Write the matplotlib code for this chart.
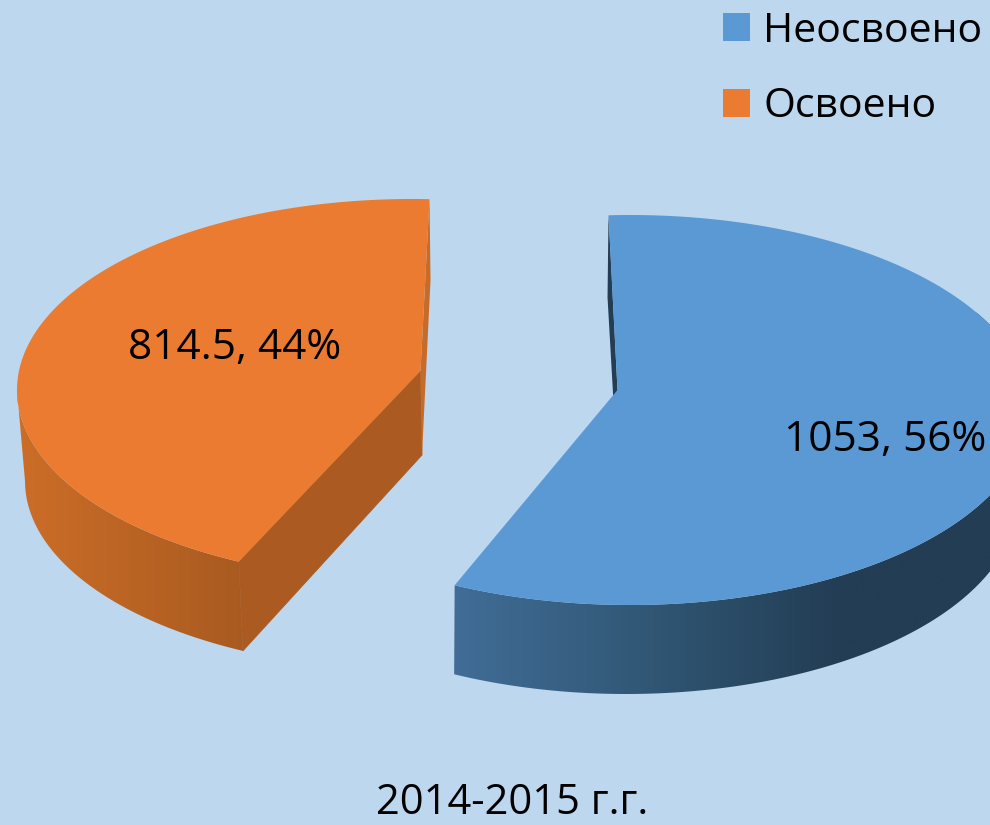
import numpy as np
import matplotlib
matplotlib.use('Agg')
import matplotlib.pyplot as plt
from matplotlib.colors import LinearSegmentedColormap
from matplotlib.patches import Patch, Polygon

# data
categories = ['Неосвоено', 'Освоено']
values = [1053, 814.5]
percent_labels = ['56%', '44%']
value_labels = ['1053', '814.5']
title = '2014-2015 г.г.'

BG = '#bdd7ee'
BLUE = '#5b99d5'
ORANGE = '#ea7b30'

plt.rcParams['font.family'] = ['Open Sans', 'DejaVu Sans']

fig = plt.figure(figsize=(9.9, 8.25), dpi=100, facecolor=BG)
ax = fig.add_axes([0, 0, 1, 1])
ax.set_facecolor(BG)
ax.axis('off')

sweeps = [v / sum(values) * 360 for v in values]

# angles clockwise from the top of the ellipse, slices meet at 206 deg
blue_end = 206
blue_start = blue_end - sweeps[0] * 1.03   # perspective widens the near slice
orange_start = blue_end
orange_end = orange_start + sweeps[1] * 0.997


def rim(phi, cx, cy, rx, ry):
    phi = np.radians(phi)
    return np.column_stack([cx + rx * np.sin(phi), cy - ry * np.cos(phi)])


def grad_fill(pts, colors, x0, x1):
    cmap = LinearSegmentedColormap.from_list('g', colors)
    im = ax.imshow(np.linspace(0, 1, 256).reshape(1, -1), cmap=cmap, aspect='auto',
                   extent=[x0, x1, 825, 0], zorder=2, interpolation='bilinear')
    im.set_clip_path(Polygon(pts, closed=True, transform=ax.transData))


# orange slice
o_top = (412, 390, 395, 191)
o_bot = (413, 481, 388, 189)
o_apex = np.array([420.5, 371])
o_apex_low = o_apex + [1.5, 84]
o_phi = np.linspace(orange_start, orange_end, 200)
o_wall = np.linspace(orange_start, 270, 100)
o_first = rim(orange_start, *o_top)[0]
o_last = rim(orange_end, *o_top)[0]

grad_fill(np.vstack([rim(o_wall, *o_top), rim(o_wall, *o_bot)[::-1]]),
          [(0, '#a85a20'), (1, '#cd6e28')], 250, 10)
ax.add_patch(Polygon([o_first, o_apex, o_apex_low, rim(orange_start, *o_bot)[0]],
                     closed=True, fc='#ab5b22', ec='#ab5b22', lw=0.6, zorder=3))
ax.add_patch(Polygon([o_last, o_last + [1, 81], o_apex_low, o_apex],
                     closed=True, fc='#c66b28', ec='none', zorder=3))
ax.add_patch(Polygon(np.vstack([rim(o_phi, *o_top), o_apex]),
                     closed=True, fc=ORANGE, ec='none', zorder=4))

# blue slice
b_top = (630, 410, 400, 195)
b_bot = (626, 499, 392, 195)
b_apex = np.array([617.5, 390])
b_phi = np.linspace(blue_start, blue_end, 300)
b_wall = np.linspace(60, blue_end, 200)
b_first = rim(blue_start, *b_top)[0]

grad_fill(np.vstack([rim(b_wall, *b_top), rim(b_wall, *b_bot)[::-1]]),
          [(0, '#416d97'), (0.35, '#315876'), (0.72, '#233d54'), (1, '#233d54')], 450, 990)
ax.add_patch(Polygon([b_first, b_first + [-1, 82], b_apex + [0, 82], b_apex],
                     closed=True, fc='#233d54', ec='none', zorder=3))
ax.add_patch(Polygon(np.vstack([rim(b_phi, *b_top), b_apex]),
                     closed=True, fc=BLUE, ec='none', zorder=4))

ax.set_xlim(0, 990)
ax.set_ylim(825, 0)

# labels
ax.text(885, 440, value_labels[0] + ', ' + percent_labels[0], fontsize=30.5, color='black',
        ha='center', va='center', zorder=5)
ax.text(235, 348, value_labels[1] + ', ' + percent_labels[1], fontsize=30.5, color='black',
        ha='center', va='center', zorder=5)
ax.text(512, 803, title, fontsize=30, color='black', ha='center', va='center', zorder=5)

handles = [Patch(fc=BLUE, ec='none', label=categories[0]),
           Patch(fc=ORANGE, ec='none', label=categories[1])]
ax.legend(handles=handles, loc='upper left', bbox_to_anchor=(723, 11), bbox_transform=ax.transData,
          frameon=False, fontsize=29.5, handlelength=0.66, handleheight=0.66, handletextpad=0.32,
          labelspacing=0.86, borderpad=0, borderaxespad=0, labelcolor='black')

fig.savefig('out.png', dpi=100, facecolor=BG)
